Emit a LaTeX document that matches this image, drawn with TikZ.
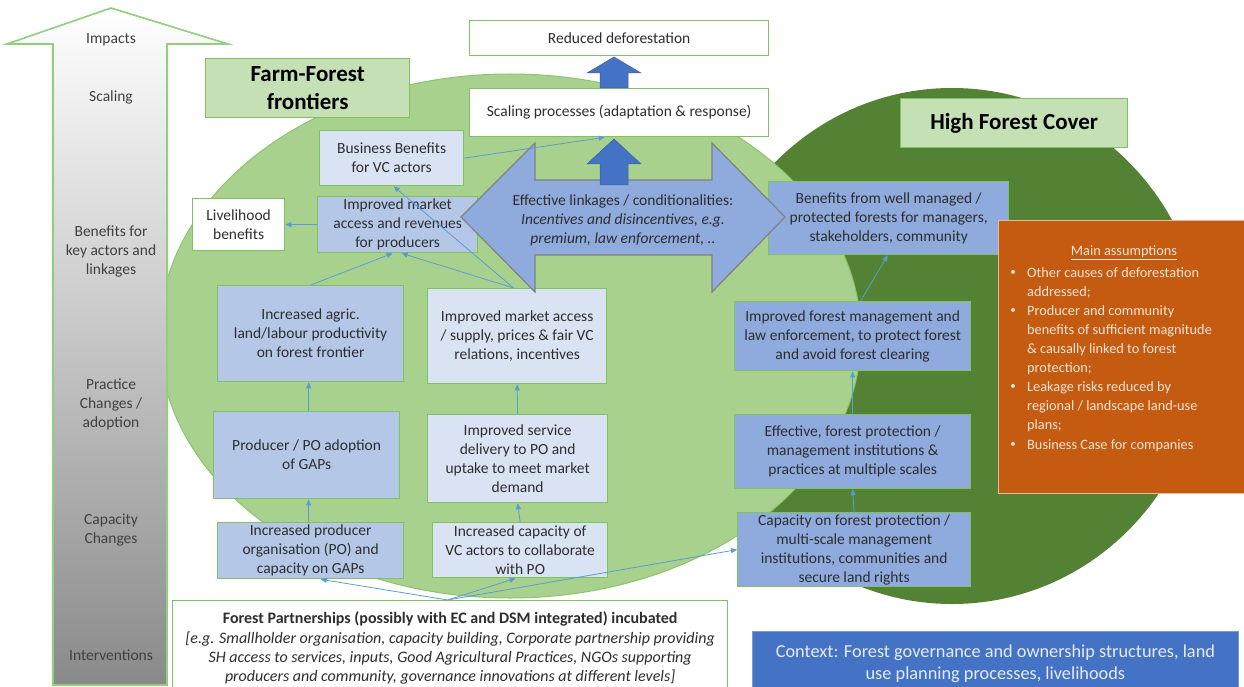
\documentclass[tikz,border=0pt]{standalone}
\usepackage{fontspec}
\setmainfont{Carlito}
\usetikzlibrary{arrows.meta}
\definecolor{txt}{HTML}{2E2E2E}
\definecolor{lbltxt}{HTML}{404040}
\definecolor{bxborder}{HTML}{80C262}
\definecolor{paleblue}{HTML}{DAE3F3}
\definecolor{midblue}{HTML}{B4C7E7}
\definecolor{deepblue}{HTML}{8FAADC}
\definecolor{titlegreen}{HTML}{C5E0B4}
\definecolor{lightell}{HTML}{A9D18E}
\definecolor{lightellb}{HTML}{8CC46C}
\definecolor{darkell}{HTML}{548235}
\definecolor{connblue}{HTML}{5B9BD5}
\definecolor{arrowblue}{HTML}{4472C4}
\definecolor{orangebox}{HTML}{C55A11}
\definecolor{orangetxt}{HTML}{F6E6D8}
\definecolor{ctxtxt}{HTML}{E6ECF7}
\definecolor{bigarrowb}{HTML}{8FD078}
\tikzset{
 lbl/.style={font=\fontsize{15.5}{19}\selectfont, text=lbltxt, align=center, inner sep=0pt},
 bx/.style={draw=bxborder, line width=1.3pt, inner sep=0pt, anchor=north west, align=center, font=\fontsize{15.5}{19}\selectfont, text=txt},
 wbox/.style={bx, fill=white},
 pale/.style={bx, fill=paleblue},
 mid/.style={bx, fill=midblue},
 deep/.style={bx, fill=deepblue},
 titlebox/.style={bx, fill=titlegreen, font=\fontsize{23}{28}\selectfont\bfseries, text=black},
 conn/.style={draw=connblue, line width=0.8pt, -{Triangle[length=6pt,width=5pt]}},
 asstext/.style={font=\fontsize{14.3}{19}\selectfont, text=orangetxt, align=left, inner sep=0pt, anchor=north west},
 bullet/.style={font=\fontsize{11}{19}\selectfont, text=orangetxt, inner sep=0pt},
}
\begin{document}
\begin{tikzpicture}[x=1pt,y=-1pt]
\useasboundingbox (0,0) rectangle (1244,687);
\fill[white] (0,0) rectangle (1244,687);

% ellipses
\fill[darkell] (952,346) ellipse [x radius=252, y radius=258];
\filldraw[fill=lightell, draw=lightellb, line width=1pt] (510,336) ellipse [x radius=351, y radius=262];

% left gradient arrow
\shade[draw=bigarrowb, line width=1.6pt, top color=white, middle color=black!14, bottom color=black!46]
 (111,8) -- (228,44) -- (167,44) -- (167,685) -- (53,685) -- (53,44) -- (7,44) -- cycle;
\node[lbl] (limp) at (111,40) {Impacts};
\node[lbl] (lsca) at (111,97) {Scaling};
\node[lbl] (lben) at (111,251) {Benefits for\\key actors and\\linkages};
\node[lbl] (lpra) at (111,404) {Practice\\Changes /\\adoption};
\node[lbl] (lcap) at (111,529.5) {Capacity\\Changes};
\node[lbl] (lint) at (111,655) {Interventions};

% titles
\node[titlebox, minimum width=204, minimum height=59] (ff) at (205,58) {Farm-Forest\\frontiers};
\node[titlebox, minimum width=227, minimum height=49] (hfc) at (900,98) {High Forest Cover};

% top boxes
\node[wbox, minimum width=299, minimum height=35] (rd) at (469,20) {Reduced deforestation};
\node[wbox, minimum width=299, minimum height=48] (sp) at (469,88) {Scaling processes (adaptation \& response)};

% left column boxes
\node[pale, minimum width=144, minimum height=55] (bb) at (319,130) {Business Benefits\\for VC actors};
\node[mid, minimum width=160, minimum height=56] (ima) at (317,196) {Improved market\\access and revenues\\for producers};
\node[wbox, minimum width=92, minimum height=52] (lb) at (192,198) {Livelihood\\benefits};
\node[mid, minimum width=186, minimum height=96] (iap) at (217,285) {Increased agric.\\land/labour productivity\\on forest frontier};
\node[pale, minimum width=179, minimum height=95] (ims) at (427,288) {Improved market access\\/ supply, prices \& fair VC\\relations, incentives};
\node[mid, minimum width=186, minimum height=87] (ppo) at (213,411) {Producer / PO adoption\\of GAPs};
\node[pale, minimum width=180, minimum height=88] (isd) at (427,414) {Improved service\\delivery to PO and\\uptake to meet market\\demand};
\node[mid, minimum width=186, minimum height=56] (ipo) at (217,522) {Increased producer\\organisation (PO) and\\capacity on GAPs};
\node[pale, minimum width=175, minimum height=55] (icv) at (432,522) {Increased capacity of\\VC actors to collaborate\\with PO};

% right column boxes
\node[deep, minimum width=240, minimum height=73] (bwm) at (768,181) {Benefits from well managed /\\protected forests for managers,\\stakeholders, community};
\node[deep, minimum width=236, minimum height=69] (ifm) at (734,301) {Improved forest management and\\law enforcement, to protect forest\\and avoid forest clearing};
\node[deep, minimum width=236, minimum height=74] (efp) at (734,414) {Effective, forest protection /\\management institutions \&\\practices at multiple scales};
\node[deep, minimum width=233, minimum height=74] (cfp) at (737,512) {Capacity on forest protection /\\multi-scale management\\institutions, communities and\\secure land rights};

% blue up arrows
\filldraw[fill=arrowblue, draw=arrowblue!85!black, line width=0.5pt]
 (614,57) -- (641,73) -- (628,73) -- (628,88) -- (600,88) -- (600,73) -- (587,73) -- cycle;

% double arrow
\filldraw[fill=deepblue, draw=black!50, line width=1.2pt]
 (461,217) -- (535,143) -- (535,180) -- (712,180) -- (712,143) -- (785,217) -- (712,292) -- (712,255) -- (535,255) -- (535,292) -- cycle;
\node[font=\fontsize{15.5}{19}\selectfont, text=txt, align=center, inner sep=0pt] (link) at (623,220)
 {Effective linkages / conditionalities:\\\textit{Incentives and disincentives, e.g.}\\\textit{premium, law enforcement, ..}};
\filldraw[fill=arrowblue, draw=arrowblue!85!black, line width=0.5pt]
 (614,139) -- (641,164) -- (628,164) -- (628,185) -- (600,185) -- (600,164) -- (587,164) -- cycle;

% assumptions
\node[draw=orangetxt!70!orangebox, line width=0.6pt, fill=orangebox, anchor=north west, minimum width=252, minimum height=273, inner sep=0pt] (ma) at (998,220) {};
\node[font=\fontsize{14.3}{19}\selectfont, text=orangetxt, inner sep=0pt] (mat) at (1124,253) {\underline{Main assumptions}};
\node[bullet] (b1) at (1013,273) {\textbullet};
\node[bullet] (b2) at (1013,311) {\textbullet};
\node[bullet] (b3) at (1013,387) {\textbullet};
\node[bullet] (b4) at (1013,445) {\textbullet};
\node[asstext] (a1) at (1027,267) {Other causes of deforestation\\addressed;};
\node[asstext] (a2) at (1027,305) {Producer and community\\benefits of sufficient magnitude\\\& causally linked to forest\\protection;};
\node[asstext] (a3) at (1027,381) {Leakage risks reduced by\\regional / landscape land-use\\plans;};
\node[asstext] (a4) at (1027,439) {Business Case for companies};

% bottom boxes
\node[wbox, minimum width=555, minimum height=95, font=\fontsize{16}{19.3}\selectfont] (fp) at (172,600)
 {\textbf{Forest Partnerships (possibly with EC and DSM integrated) incubated}\\
  \textit{[e.g. Smallholder organisation, capacity building, Corporate partnership providing}\\
  \textit{SH access to services, inputs, Good Agricultural Practices, NGOs supporting}\\
  \textit{producers and community, governance innovations at different levels]}};
\node[bx, draw=deepblue!70!arrowblue, line width=0.8pt, fill=arrowblue, text=ctxtxt, minimum width=486, minimum height=64, font=\fontsize{18.3}{22}\selectfont] (ctx) at (752,631)
 {Context: Forest governance and ownership structures, land\\use planning processes, livelihoods};

% connectors
\draw[conn] (bb.east) -- ([xshift=-14.5pt]sp.south);
\draw[conn] (ima.west) -- (lb.east);
\draw[conn] ([xshift=-3.5pt]ims.north) -- ([xshift=2pt]bb.south);
\draw[conn] ([xshift=-3.5pt]ims.north) -- ([xshift=4pt]ima.south);
\draw[conn] (iap.north) -- ([xshift=-5pt]ima.south);
\draw[conn] ([xshift=2pt]ppo.north) -- ([xshift=-2pt]iap.south);
\draw[conn] ([xshift=-2pt]ipo.north) -- ([xshift=2pt]ppo.south);
\draw[conn] (isd.north) -- (ims.south);
\draw[conn] (icv.north) -- (isd.south);
\draw[conn] ([xshift=-2.5pt]fp.north) -- ([xshift=10pt]ipo.south);
\draw[conn] ([xshift=-2.5pt]fp.north) -- ([xshift=-4.5pt]icv.south);
\draw[conn] ([xshift=-2.5pt]fp.north) -- (cfp.west);
\draw[conn] (cfp.north) -- (efp.south);
\draw[conn] (efp.north) -- (ifm.south);
\draw[conn] ([xshift=8pt]ifm.north) -- ([xshift=-1pt]bwm.south);
\end{tikzpicture}
\end{document}
